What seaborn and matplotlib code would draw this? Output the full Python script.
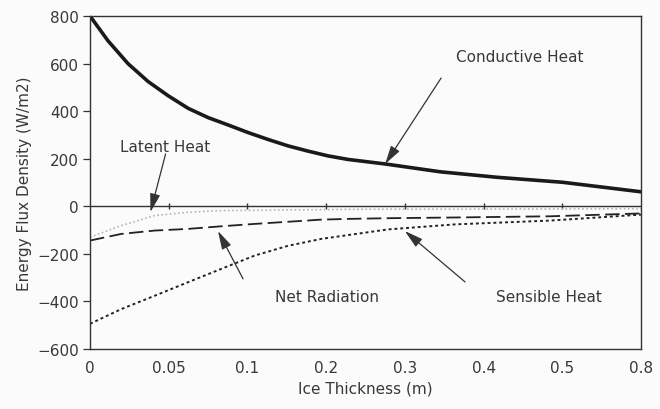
import numpy as np
import pandas as pd
import matplotlib
matplotlib.use("Agg")
import matplotlib.pyplot as plt
import seaborn as sns

# ---- data ----
x_ticks = [0, 0.05, 0.1, 0.2, 0.3, 0.4, 0.5, 0.8]
x_tick_labels = ["0", "0.05", "0.1", "0.2", "0.3", "0.4", "0.5", "0.8"]
y_ticks = [-600, -400, -200, 0, 200, 400, 600, 800]

cond_t = [0.0, 0.0114, 0.0241, 0.0368, 0.0496, 0.0623, 0.0750, 0.0877, 0.1008,
          0.1262, 0.1516, 0.1770, 0.2024, 0.2278, 0.275, 0.345, 0.417, 0.501, 0.8]
cond_v = [800, 696, 600, 525, 465, 412, 373, 342, 310,
          281, 254, 232, 212, 197, 178, 145, 122, 101, 61]

low_t = [0.0, 0.0199, 0.0411, 0.0623, 0.0834, 0.1093, 0.1516, 0.1939, 0.2278,
         0.279, 0.3638, 0.4845, 0.8]
net_v = [-144, -116, -102, -95, -84, -74, -65, -56, -53,
         -50, -47, -42, -30]
sens_v = [-494, -432, -376, -319, -263, -207, -166, -137, -121,
          -97, -76, -60, -35]
lat_v = [-130, -81, -39, -25, -18, -17, -15, -14, -13,
         -12, -12, -11, -10]

# ---- piecewise-linear x scale (ticks equally spaced) ----
idx = np.arange(len(x_ticks), dtype=float)
def fwd(x):
    return np.interp(x, x_ticks, idx)
def inv(i):
    return np.interp(i, idx, x_ticks)

sns.set_style("white")
plt.rcParams["font.family"] = ["DejaVu Sans"]
text_c = "#383838"

fig = plt.figure(figsize=(6.6, 4.1), dpi=100)
fig.patch.set_facecolor("#fbfbfb")
ax = fig.add_axes([0.1364, 0.1463, 0.8348, 0.8122])
ax.set_facecolor("#fbfbfb")
ax.set_xscale("function", functions=(fwd, inv))

df_c = pd.DataFrame({"t": cond_t, "v": cond_v})
df_n = pd.DataFrame({"t": low_t, "v": net_v})
df_s = pd.DataFrame({"t": low_t, "v": sens_v})
df_l = pd.DataFrame({"t": low_t, "v": lat_v})

sns.lineplot(data=df_l, x="t", y="v", ax=ax, color="#b4b4b4", lw=1.2,
             linestyle=(0, (1, 1.5)), estimator=None, sort=False)
sns.lineplot(data=df_s, x="t", y="v", ax=ax, color="#222222", lw=1.4,
             linestyle=(0, (1.5, 1.5)), estimator=None, sort=False)
sns.lineplot(data=df_n, x="t", y="v", ax=ax, color="#222222", lw=1.3,
             linestyle=(0, (8, 3)), estimator=None, sort=False)
sns.lineplot(data=df_c, x="t", y="v", ax=ax, color="#1a1a1a", lw=2.6,
             estimator=None, sort=False)

ax.set_xlim(0, 0.8)
ax.set_ylim(-600, 800)
ax.set_xticks(x_ticks)
ax.set_xticklabels(x_tick_labels)
ax.set_yticks(y_ticks)
ax.tick_params(axis="x", length=0, pad=8, labelsize=11, labelcolor=text_c)
ax.tick_params(axis="y", length=5, width=0.9, direction="out", pad=3,
               labelsize=11, labelcolor=text_c, left=True, color="#333333")
ax.minorticks_off()

# zero line with crossing ticks
ax.axhline(0, color="#333333", lw=1.0, zorder=1)
ax.vlines(x_ticks[1:-1], -12, 12, color="#333333", lw=1.0, zorder=1)

for s in ax.spines.values():
    s.set_visible(True)
    s.set_color("#333333")
    s.set_linewidth(1.0)

ax.set_xlabel("Ice Thickness (m)", fontsize=11, color=text_c, labelpad=4)
ax.set_ylabel("Energy Flux Density (W/m2)", fontsize=11, color=text_c, labelpad=4)

arrow = dict(arrowstyle="-|>,head_length=0.8,head_width=0.22", mutation_scale=14,
             lw=0.9, color="#333333", shrinkA=0, shrinkB=0)
labels = ["Conductive Heat", "Latent Heat", "Net Radiation", "Sensible Heat"]
text_pos = [(0.446, 631), (0.048, 253), (0.201, -381), (0.483, -381)]
tails = [(0.346, 539), (0.048, 220), (0.0972, -305), (0.3765, -318)]
tips = [(0.275, 178), (0.0384, -24), (0.0813, -104), (0.300, -104)]
for lab, tp, tl, tip in zip(labels, text_pos, tails, tips):
    ax.text(tp[0], tp[1], lab, ha="center", va="center", fontsize=11, color=text_c)
    ax.annotate("", xy=tip, xytext=tl, arrowprops=arrow)

fig.savefig("out.png", dpi=100, facecolor=fig.get_facecolor())
